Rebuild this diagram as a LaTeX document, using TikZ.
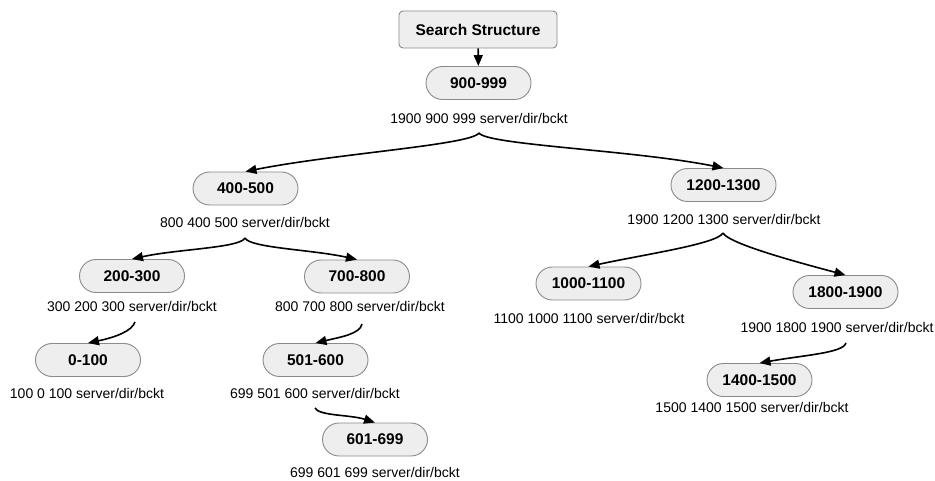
\documentclass[tikz,border=0pt]{standalone}
\usepackage{fontspec}
\setmainfont{Liberation Sans}
\usetikzlibrary{arrows.meta,shapes.misc}

\definecolor{boxfill}{HTML}{EEEEEE}
\definecolor{boxline}{HTML}{8A8A8A}

\tikzset{
  rangenode/.style={rounded rectangle, draw=boxline, fill=boxfill, line width=0.9pt,
    minimum width=105pt, minimum height=33pt, inner sep=0pt,
    font=\fontsize{15.5}{18}\selectfont\bfseries},
  rootnode/.style={rectangle, rounded corners=4pt, draw=boxline, fill=boxfill, line width=0.9pt,
    minimum width=158pt, minimum height=37pt, inner sep=0pt,
    font=\fontsize{15.5}{18}\selectfont\bfseries},
  entry/.style={inner sep=0pt, font=\fontsize{14}{16}\selectfont},
  link/.style={line width=1.6pt, -{Triangle[length=11pt,width=9pt]}}
}

\begin{document}
\begin{tikzpicture}[x=1pt, y=-1pt]
\useasboundingbox (0,0) rectangle (935,481);

% root of the search structure
\node[rootnode] (root) at (478,29.5) {Search Structure};

% range nodes
\node[rangenode] (n900)  at (478.5,83)   {900-999};
\node[rangenode] (n400)  at (245.5,188.5) {400-500};
\node[rangenode] (n1200) at (723.5,185)  {1200-1300};
\node[rangenode] (n200)  at (132,276)    {200-300};
\node[rangenode] (n700)  at (357,276.5)  {700-800};
\node[rangenode] (n0)    at (88,360)     {0-100};
\node[rangenode] (n501)  at (315.5,360)  {501-600};
\node[rangenode] (n601)  at (375,439.5)  {601-699};
\node[rangenode] (n1000) at (588.5,283.5) {1000-1100};
\node[rangenode] (n1800) at (845.5,292)  {1800-1900};
\node[rangenode] (n1400) at (759.5,380)  {1400-1500};

% entries stored with each range
\node[entry] (l900)  at (479,118) {1900 900 999 server/dir/bckt};
\node[entry] (l400)  at (245,222) {800 400 500 server/dir/bckt};
\node[entry] (l1200) at (724,219) {1900 1200 1300 server/dir/bckt};
\node[entry] (l200)  at (132,306) {300 200 300 server/dir/bckt};
\node[entry] (l700)  at (360,306) {800 700 800 server/dir/bckt};
\node[entry] (l0)    at (87,393)  {100 0 100 server/dir/bckt};
\node[entry] (l501)  at (315,393) {699 501 600 server/dir/bckt};
\node[entry] (l601)  at (375,472) {699 601 699 server/dir/bckt};
\node[entry] (l1000) at (589,318) {1100 1000 1100 server/dir/bckt};
\node[entry] (l1800) at (837,327) {1900 1800 1900 server/dir/bckt};
\node[entry] (l1400) at (752,407) {1500 1400 1500 server/dir/bckt};

% branch points below the entries
\coordinate (c900)  at (479,133);
\coordinate (c400)  at (245,238);
\coordinate (c1200) at (723,233);
\coordinate (c200)  at (135,322);
\coordinate (c700)  at (362,324);
\coordinate (c501)  at (315,408);
\coordinate (c1800) at (846,343);

% connectors
\draw[link] (root) -- (n900);
\draw[link] (c900) .. controls +(-8,12) and +(90,-18) .. (n400.north);
\draw[link] (c900) .. controls +(8,12) and +(-90,-18) .. (n1200.north);
\draw[link] (c400) .. controls +(-5,10) and +(45,-10) .. (n200.north);
\draw[link] (c400) .. controls +(5,10) and +(-45,-10) .. (n700.north);
\draw[link] (c1200) .. controls +(-6,11) and +(55,-12) .. (n1000.north);
\draw[link] (c1200) .. controls +(6,11) and +(-45,-12) .. (n1800.north);
\draw[link] (c200) .. controls +(-3,9) and +(28,-6) .. (n0.north);
\draw[link] (c700) .. controls +(-2,10) and +(25,-6) .. (n501.north);
\draw[link] (c501) .. controls +(4,8) and +(-25,-8) .. (n601.north);
\draw[link] (c1800) .. controls +(-3,10) and +(45,-8) .. (n1400.north);
\end{tikzpicture}
\end{document}
